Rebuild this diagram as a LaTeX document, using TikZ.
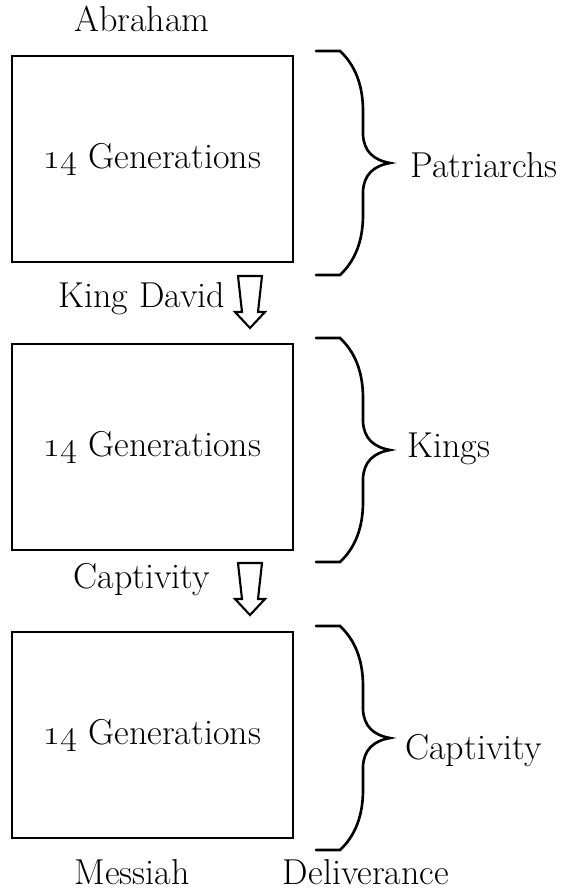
\documentclass[tikz,border=0pt]{standalone}
\usepackage{tikz}
\usetikzlibrary{positioning}

\begin{document}
\begin{tikzpicture}[x=0.02cm,y=-0.02cm,
	genbox/.style={draw,line width=1.4pt,minimum width=5.62cm,minimum height=4.12cm,font=\fontsize{20.5}{24}\selectfont},
	lbl/.style={inner sep=0pt,font=\fontsize{20.5}{24}\selectfont},
	brace/.style={line width=1.5pt,line cap=round},
	hollow/.style={line width=1.2pt,line join=miter}]
	\useasboundingbox (0,0) rectangle (566,892);
	% the three blocks
	\node[genbox] (gen1) at (152.5,159) {\oldstylenums{14} Generations};
	\node[genbox] (gen2) at (152.5,447) {\oldstylenums{14} Generations};
	\node[genbox] (gen3) at (152.5,735) {\oldstylenums{14} Generations};
	% labels between blocks
	\node[lbl,anchor=base] (abraham) at (142,32) {Abraham};
	\node[lbl,anchor=base] (david) at (142,307) {King David};
	\node[lbl,anchor=base] (capt) at (142,588) {Captivity};
	\node[lbl,anchor=base] (messiah) at (132,884) {Messiah};
	\node[lbl,anchor=base] (deliv) at (366,884) {Deliverance};
	% hollow arrows
	\foreach \t in {276,563}
		\draw[hollow] (238,\t) -- (262,\t) -- (258,\t+36) -- (265,\t+36) -- (250,\t+52)
			-- (235,\t+36) -- (242,\t+36) -- cycle;
	% braces
	\foreach \t in {51,338,626}
		\draw[brace] (316,\t) -- (340,\t) .. controls (355,\t+14) and (363,\t+34) .. (363,\t+60)
			-- (363,\t+84) .. controls (364,\t+100) and (373,\t+109) .. (390,\t+112)
			.. controls (373,\t+115) and (364,\t+124) .. (363,\t+140) -- (363,\t+164)
			.. controls (363,\t+190) and (355,\t+210) .. (340,\t+224) -- (316,\t+224);
	\node[lbl,anchor=base west] (patr) at (410,177) {Patriarchs};
	\node[lbl,anchor=base west] (kings) at (407,457) {Kings};
	\node[lbl,anchor=base west] (captr) at (405,759) {Captivity};
\end{tikzpicture}
\end{document}
